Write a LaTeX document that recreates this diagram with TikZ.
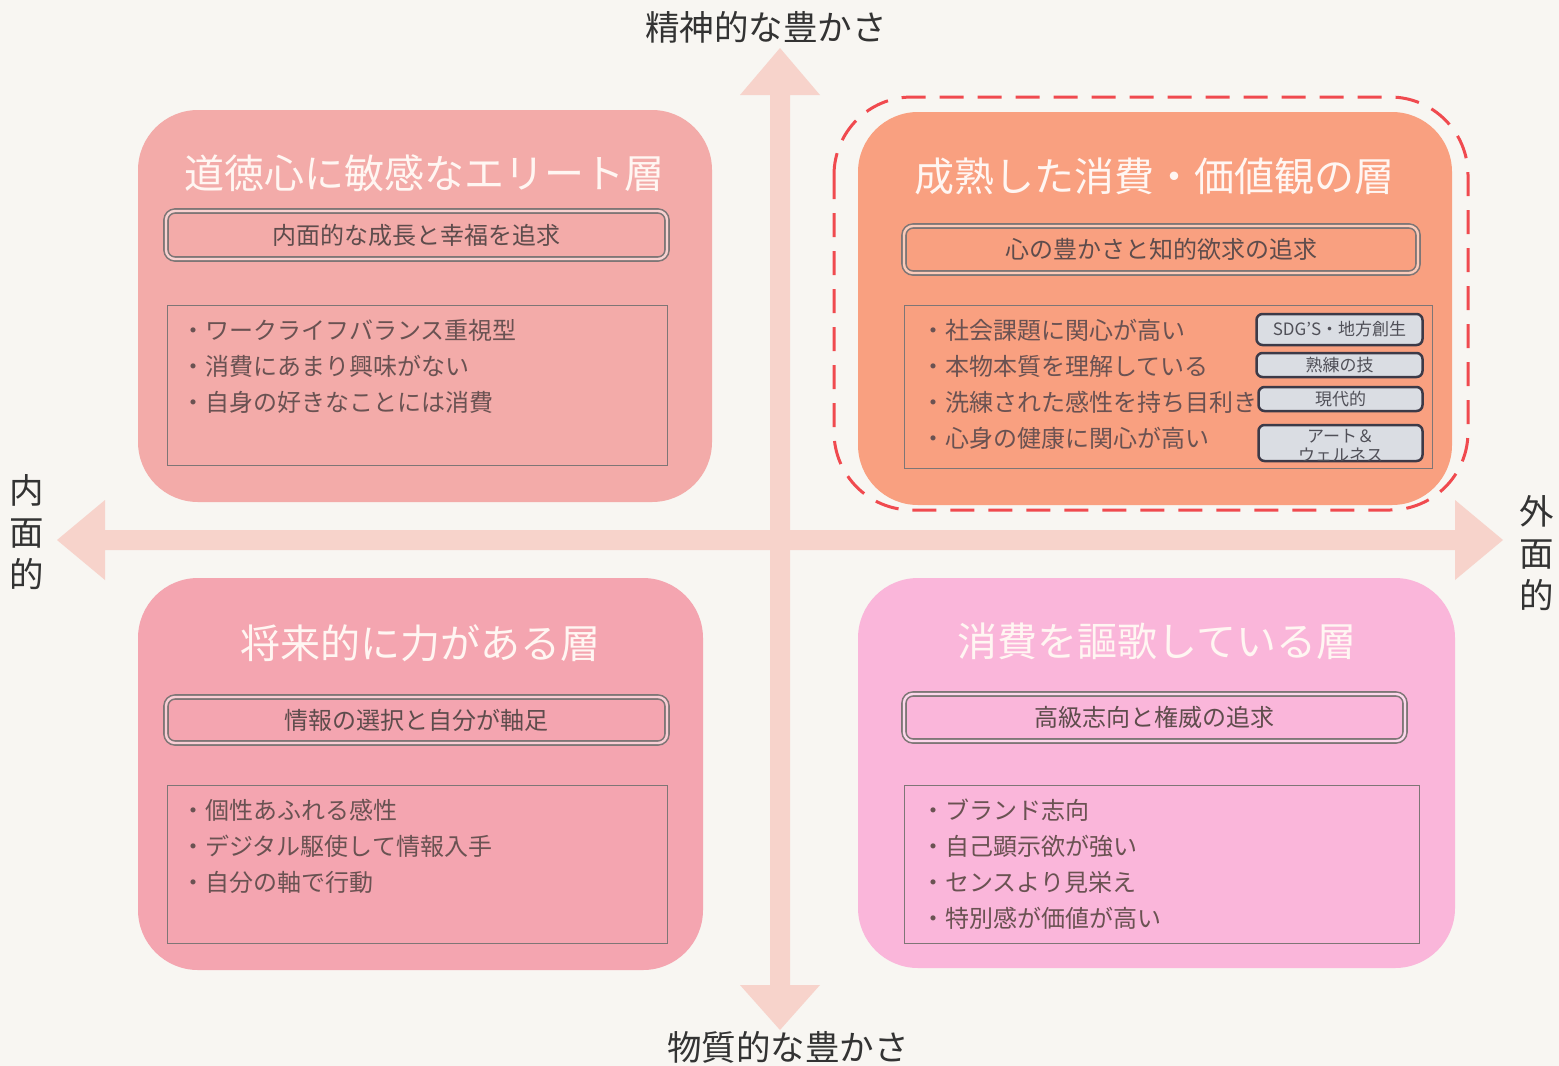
\documentclass[tikz,border=0pt]{standalone}
\usepackage{fontspec}
\setmainfont{Noto Sans CJK JP}
\definecolor{bg}{HTML}{F8F6F2}
\definecolor{arrowc}{HTML}{F7D3CB}
\definecolor{tlc}{HTML}{F3ABA9}
\definecolor{trc}{HTML}{F9A080}
\definecolor{blc}{HTML}{F4A5B0}
\definecolor{brc}{HTML}{FAB6DA}
\definecolor{dashc}{HTML}{F04A4F}
\definecolor{titlec}{HTML}{FFF6F2}
\definecolor{subc}{HTML}{5E4C4C}
\definecolor{bulc}{HTML}{6A5252}
\definecolor{boxc}{HTML}{7E7676}
\definecolor{tagfill}{HTML}{DADDE3}
\definecolor{tagdraw}{HTML}{3C3A48}
\definecolor{tagtext}{HTML}{505058}
\definecolor{axtext}{HTML}{333333}
\begin{document}
\begin{tikzpicture}[x=1pt,y=-1pt,
  quad/.style={rounded corners=60pt, inner sep=0pt, draw=none},
  titletext/.style={text=titlec, font=\fontsize{40pt}{48pt}\selectfont, inner sep=0pt},
  subbox/.style={draw=boxc, line width=1.6pt, double distance=2.4pt, rounded corners=9pt, inner sep=0pt, text=subc, font=\fontsize{24pt}{28pt}\selectfont},
  listbox/.style={draw=boxc, line width=0.9pt, inner sep=0pt},
  bullet/.style={anchor=west, text=bulc, inner sep=0pt, font=\fontsize{24pt}{28pt}\selectfont},
  tag/.style={draw=tagdraw, fill=tagfill, line width=2.5pt, rounded corners=6pt, inner sep=0pt, text=tagtext, font=\fontsize{17pt}{19pt}\selectfont, align=center},
  axlabel/.style={text=axtext, inner sep=0pt, font=\fontsize{34.5pt}{42pt}\selectfont, align=center}
]
\fill[bg] (0,0) rectangle (1559,1066);
\useasboundingbox (0,0) rectangle (1559,1066);

% axes arrows
\fill[arrowc] (770,95) -- (740,95) -- (780,48) -- (820,95) -- (790,95)
  -- (790,985) -- (820,985) -- (780,1030) -- (740,985) -- (770,985) -- cycle;
\fill[arrowc] (105,530) -- (105,500) -- (57,540) -- (105,580) -- (105,550)
  -- (1455,550) -- (1455,580) -- (1503,540) -- (1455,500) -- (1455,530) -- cycle;

% axis labels
\node[axlabel] (top) at (766,27) {精神的な豊かさ};
\node[axlabel] (bottom) at (788,1047) {物質的な豊かさ};
\node[axlabel] (left) at (27,532) {内\\面\\的};
\node[axlabel] (right) at (1537,553) {外\\面\\的};

% top-left
\node[quad, fill=tlc, minimum width=574pt, minimum height=392pt] (tl) at (425,306) {};
\node[titletext] (tlt) at (424,173) {道徳心に敏感なエリート層};
\node[subbox, double=tlc!55!white, minimum width=501pt, minimum height=48pt] (tls) at (416.5,235) {内面的な成長と幸福を追求};
\node[listbox, minimum width=500pt, minimum height=160pt] (tll) at (417,385) {};
\node[bullet] (tl1) at (181,330) {・ワークライフバランス重視型};
\node[bullet] (tl2) at (181,366) {・消費にあまり興味がない};
\node[bullet] (tl3) at (181,402) {・自身の好きなことには消費};

% top-right
\node[quad, fill=trc, minimum width=594pt, minimum height=393pt] (tr) at (1155,308.5) {};
\draw[dashc, line width=3pt, dash pattern=on 24pt off 14pt, rounded corners=78pt]
  (834,97) rectangle (1468,510);
\node[titletext] (trt) at (1154,176) {成熟した消費・価値観の層};
\node[subbox, double=trc!55!white, minimum width=514pt, minimum height=47pt] (trs) at (1161,249.5) {心の豊かさと知的欲求の追求};
\node[listbox, minimum width=528pt, minimum height=163pt] (trl) at (1168,386.5) {};
\node[bullet] (tr1) at (921,330) {・社会課題に関心が高い};
\node[bullet] (tr2) at (921,366) {・本物本質を理解している};
\node[bullet] (tr3) at (921,402) {・洗練された感性を持ち目利き};
\node[bullet] (tr4) at (921,438) {・心身の健康に関心が高い};
\node[tag, minimum width=166pt, minimum height=31pt] (tag1) at (1339.5,329.5) {SDG’S・地方創生};
\node[tag, minimum width=166pt, minimum height=24pt] (tag2) at (1339.5,365) {熟練の技};
\node[tag, minimum width=164pt, minimum height=24pt] (tag3) at (1340.5,399) {現代的};
\node[tag, minimum width=164pt, minimum height=36pt] (tag4) at (1340.5,443) {};
\begin{scope}
\clip[rounded corners=5pt] (1259,426) rectangle (1422,460);
\node[text=tagtext, font=\fontsize{17pt}{19pt}\selectfont, align=center, inner sep=0pt] (tag4t) at (1340.5,446) {アート＆\\ウェルネス};
\end{scope}

% bottom-left
\node[quad, fill=blc, minimum width=565pt, minimum height=392pt] (bl) at (420.5,774) {};
\node[titletext] (blt) at (420,643) {将来的に力がある層};
\node[subbox, double=blc!55!white, minimum width=501pt, minimum height=46pt] (bls) at (416.5,720) {情報の選択と自分が軸足};
\node[listbox, minimum width=500pt, minimum height=158pt] (bll) at (417,864) {};
\node[bullet] (bl1) at (181,810) {・個性あふれる感性};
\node[bullet] (bl2) at (181,846) {・デジタル駆使して情報入手};
\node[bullet] (bl3) at (181,882) {・自分の軸で行動};

% bottom-right
\node[quad, fill=brc, minimum width=597pt, minimum height=390pt] (br) at (1156.5,773) {};
\node[titletext] (brt) at (1157,641) {消費を謳歌している層};
\node[subbox, double=brc!55!white, minimum width=501pt, minimum height=47pt] (brs) at (1154.5,717.5) {高級志向と権威の追求};
\node[listbox, minimum width=515pt, minimum height=158pt] (brl) at (1161.5,864) {};
\node[bullet] (br1) at (921,810) {・ブランド志向};
\node[bullet] (br2) at (921,846) {・自己顕示欲が強い};
\node[bullet] (br3) at (921,882) {・センスより見栄え};
\node[bullet] (br4) at (921,918) {・特別感が価値が高い};
\end{tikzpicture}
\end{document}
